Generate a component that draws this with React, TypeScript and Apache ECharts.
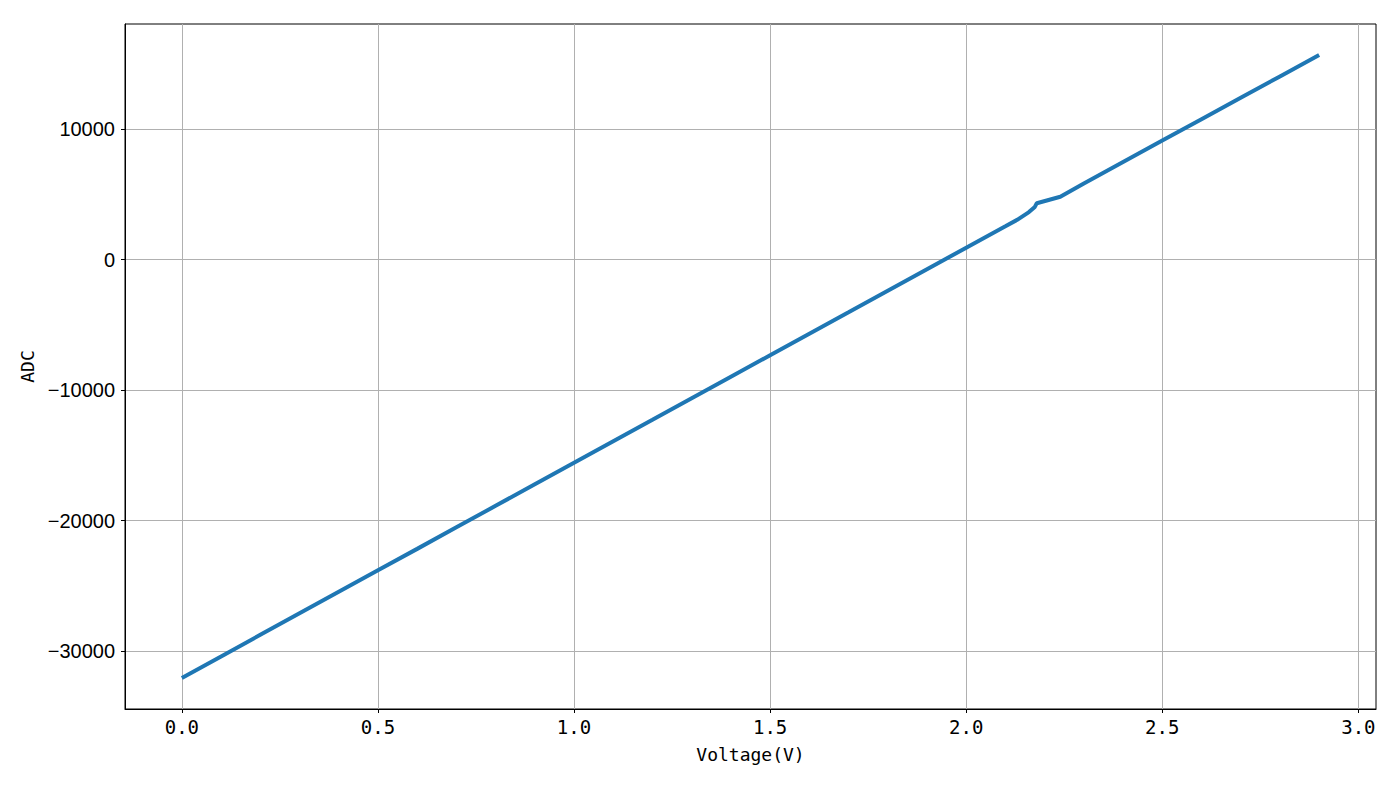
import React, { useEffect, useRef } from "react";
import * as echarts from "echarts";

const voltage = [0.0, 0.1, 0.2, 0.3, 0.4, 0.5, 0.6, 0.7, 0.8, 0.9, 1.0, 1.1, 1.2, 1.3, 1.4, 1.5, 1.6, 1.7, 1.8, 1.9, 2.0, 2.1, 2.13, 2.16, 2.175, 2.18, 2.24, 2.3, 2.4, 2.5, 2.6, 2.7, 2.8, 2.9];
const adc = [-32050, -30400, -28750, -27100, -25450, -23800, -22160, -20510, -18860, -17210, -15560, -13910, -12270, -10620, -8970, -7320, -5670, -4030, -2380, -730, 920, 2560, 3060, 3650, 4050, 4330, 4830, 5850, 7490, 9130, 10770, 12410, 14050, 15690];
const xTicks = [0, 0.5, 1.0, 1.5, 2.0, 2.5, 3.0];
const yTicks = [-30000, -20000, -10000, 0, 10000];

export default function App() {
  const ref = useRef<HTMLDivElement>(null);
  useEffect(() => {
    if (!ref.current) return;
    const chart = echarts.init(ref.current, undefined, { renderer: "svg" });
    chart.setOption({
      animation: false,
      backgroundColor: "#ffffff",
      grid: { left: 125, right: 24, top: 24, bottom: 78, show: true, borderColor: "#000", borderWidth: 1 },
      xAxis: {
        type: "value",
        min: -0.145,
        max: 3.045,
        name: "Voltage(V)",
        nameLocation: "middle",
        nameGap: 36,
        nameTextStyle: { fontFamily: "DejaVu Sans Mono", fontSize: 18, color: "#000" },
        axisLine: { show: true, onZero: false, lineStyle: { color: "#000", width: 1 } },
        axisTick: { show: true, inside: false, length: 4, lineStyle: { color: "#000" }, customValues: xTicks },
        axisLabel: {
          show: true,
          margin: 8,
          fontFamily: "DejaVu Sans Mono",
          fontSize: 19,
          color: "#000",
          customValues: xTicks,
          formatter: (v: number) => v.toFixed(1),
        },
        splitLine: { show: true, lineStyle: { color: "#b0b0b0", width: 1 } },
      },
      yAxis: {
        type: "value",
        min: -34432,
        max: 18066,
        name: "ADC",
        nameLocation: "middle",
        nameGap: 86,
        nameRotate: 90,
        nameTextStyle: { fontFamily: "DejaVu Sans Mono", fontSize: 18, color: "#000" },
        axisLine: { show: true, onZero: false, lineStyle: { color: "#000", width: 1 } },
        axisTick: { show: true, inside: false, length: 4, lineStyle: { color: "#000" }, customValues: yTicks },
        axisLabel: {
          show: true,
          margin: 10,
          fontFamily: "Liberation Sans",
          fontSize: 20,
          color: "#000",
          customValues: yTicks,
          formatter: (v: number) => (v < 0 ? "\u2212" + Math.abs(v) : String(v)),
        },
        splitLine: { show: true, lineStyle: { color: "#b0b0b0", width: 1 } },
      },
      series: [
        {
          type: "line",
          data: voltage.map((v, i) => [v, adc[i]]),
          showSymbol: false,
          symbol: "none",
          lineStyle: { color: "#1f77b4", width: 4 },
          itemStyle: { color: "#1f77b4" },
        },
      ],
    });
    return () => chart.dispose();
  }, []);
  return <div ref={ref} style={{ position: "fixed", left: 0, top: 0, width: 1400, height: 787 }} />;
}
